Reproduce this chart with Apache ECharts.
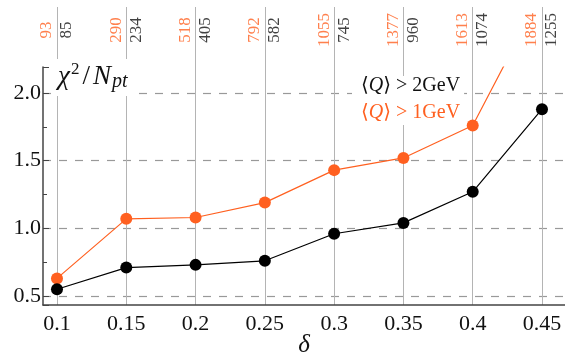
<!DOCTYPE html>
<html>
<head>
<meta charset="utf-8">
<script src="https://cdn.jsdelivr.net/npm/echarts@6/dist/echarts.min.js"></script>
<style>html,body{margin:0;padding:0;background:#fff}#c{width:565px;height:354px}</style>
</head>
<body>
<div id="c"></div>
<script>
// ---- data ----
const deltas = [0.1, 0.15, 0.2, 0.25, 0.3, 0.35, 0.4, 0.45];
const chi2Q2 = [0.55, 0.71, 0.73, 0.76, 0.96, 1.04, 1.27, 1.88];   // <Q> > 2 GeV (black)
const chi2Q1 = [0.63, 1.07, 1.08, 1.19, 1.43, 1.52, 1.76, 2.74];   // <Q> > 1 GeV (orange)
const nptQ1 = [93, 290, 518, 792, 1055, 1377, 1613, 1884];        // orange counts
const nptQ2 = [85, 234, 405, 582, 745, 960, 1074, 1255];          // black counts
const seriesNames = ['⟨Q⟩ > 2GeV', '⟨Q⟩ > 1GeV'];

const ORANGE = '#FF6020';
const FONT = '"Liberation Serif", "DejaVu Serif", serif';
const X_MIN = 0.0899, X_MAX = 0.4666;
const Y_MIN = 0.4335, Y_MAX = 2.192;

function deltaIndex(v) { return deltas.findIndex(d => Math.abs(d - v) < 1e-6); }

const chart = echarts.init(document.getElementById('c'), null, {renderer: 'canvas'});
chart.setOption({
  animation: false,
  backgroundColor: '#fff',
  textStyle: {fontFamily: FONT},
  title: {
    text: '{c|χ}{s|2}{n|/}{c|N}{p|pt}',
    left: 52, top: 59,
    padding: [2, 6, 4, 6],
    backgroundColor: '#fff',
    textStyle: {
      fontWeight: 'normal',
      rich: {
        c: {fontFamily: FONT, fontStyle: 'italic', fontWeight: 'normal', fontSize: 27, color: '#111'},
        n: {fontFamily: FONT, fontWeight: 'normal', fontSize: 27, color: '#111', padding: [0, 3, 0, 3]},
        s: {fontFamily: FONT, fontWeight: 'normal', fontSize: 17, color: '#111', padding: [0, 0, 14, 1]},
        p: {fontFamily: FONT, fontStyle: 'italic', fontWeight: 'normal', fontSize: 20, color: '#111', padding: [11, 0, 0, 1]}
      }
    }
  },
  legend: {
    orient: 'vertical',
    left: 352, top: 76,
    icon: 'none',
    itemWidth: 0, itemHeight: 10,
    itemGap: 7,
    padding: [0, 4, 2, 4],
    backgroundColor: '#fff',
    selectedMode: false,
    formatter: name => name.replace('Q', '{q|Q}'),
    textStyle: {fontFamily: FONT, fontSize: 20, rich: {q: {fontFamily: FONT, fontStyle: 'italic', fontSize: 20}}},
    data: [
      {name: seriesNames[0], textStyle: {color: '#111', rich: {q: {color: '#111'}}}},
      {name: seriesNames[1], textStyle: {color: ORANGE, rich: {q: {color: ORANGE}}}}
    ]
  },
  grid: [
    {left: 43, right: 0, top: 67, bottom: 49, outerBoundsMode: 'none', containLabel: false},
    {left: 43, right: 0, top: 7, height: 60, outerBoundsMode: 'none', containLabel: false}
  ],
  xAxis: [
    {
      gridIndex: 0, type: 'value', min: X_MIN, max: X_MAX, splitNumber: 7,
      name: 'δ', nameLocation: 'middle', nameGap: 28, nameMoveOverlap: false,
      nameTextStyle: {fontFamily: FONT, fontStyle: 'italic', fontSize: 25, color: '#111'},
      axisLine: {show: true, lineStyle: {color: '#444', width: 1.5}},
      axisTick: {show: false},
      splitLine: {show: true, showMinLine: false, showMaxLine: false, lineStyle: {color: '#b4b4b4', width: 1}},
      axisLabel: {
        showMinLabel: false, showMaxLabel: false, margin: 8,
        fontFamily: FONT, fontSize: 22, color: '#111',
        formatter: v => { const i = deltaIndex(v); return i >= 0 ? String(deltas[i]) : ''; }
      }
    },
    {
      gridIndex: 1, type: 'value', min: X_MIN, max: X_MAX, splitNumber: 7, position: 'top',
      axisLine: {show: false}, axisTick: {show: false}, axisLabel: {show: false},
      splitLine: {show: true, showMinLine: false, showMaxLine: false, lineStyle: {color: '#b4b4b4', width: 1}}
    }
  ],
  yAxis: [
    {
      gridIndex: 0, type: 'value', min: Y_MIN, max: Y_MAX, splitNumber: 4,
      axisLine: {show: true, lineStyle: {color: '#444', width: 1.5}},
      axisTick: {show: true, inside: true, length: 6, lineStyle: {color: '#444'}},
      minorTick: {show: true, splitNumber: 2, length: 4, lineStyle: {color: '#444'}},
      splitLine: {show: true, showMinLine: false, showMaxLine: false, lineStyle: {color: '#999', width: 1.2, type: [8, 8]}},
      axisLabel: {
        margin: 2, fontFamily: FONT, fontSize: 22, color: '#111',
        showMinLabel: false, showMaxLabel: false,
        formatter: v => Math.abs(v * 2 - Math.round(v * 2)) < 1e-6 ? v.toFixed(1) : ''
      }
    },
    {gridIndex: 1, type: 'value', min: 0, max: 1, show: false}
  ],
  series: [
    {
      name: seriesNames[0], type: 'line', xAxisIndex: 0, yAxisIndex: 0,
      data: deltas.map((d, i) => [d, chi2Q2[i]]),
      color: '#000', symbol: 'circle', symbolSize: 12,
      lineStyle: {color: '#000', width: 1.2}, itemStyle: {color: '#000'}, z: 3
    },
    {
      name: seriesNames[1], type: 'line', xAxisIndex: 0, yAxisIndex: 0,
      data: deltas.map((d, i) => [d, chi2Q1[i]]),
      color: ORANGE, symbol: 'circle', symbolSize: 12, clip: true,
      lineStyle: {color: ORANGE, width: 1.2}, itemStyle: {color: ORANGE}, z: 2
    },
    {
      name: 'counts', type: 'scatter', xAxisIndex: 1, yAxisIndex: 1, silent: true,
      data: deltas.map(d => [d, 0.5]),
      symbolSize: 1, itemStyle: {color: 'rgba(0,0,0,0)'},
      label: {
        show: true, position: 'inside', rotate: 90, align: 'center', verticalAlign: 'middle',
        offset: [7, 0],
        formatter: p => '{o|' + nptQ1[p.dataIndex] + '}\n{k|' + nptQ2[p.dataIndex] + '}',
        rich: {
          o: {fontFamily: FONT, fontSize: 17, color: ORANGE, lineHeight: 20, align: 'center'},
          k: {fontFamily: FONT, fontSize: 17, color: '#111', lineHeight: 20, align: 'center'}
        }
      }
    }
  ]
});
</script>
</body>
</html>
